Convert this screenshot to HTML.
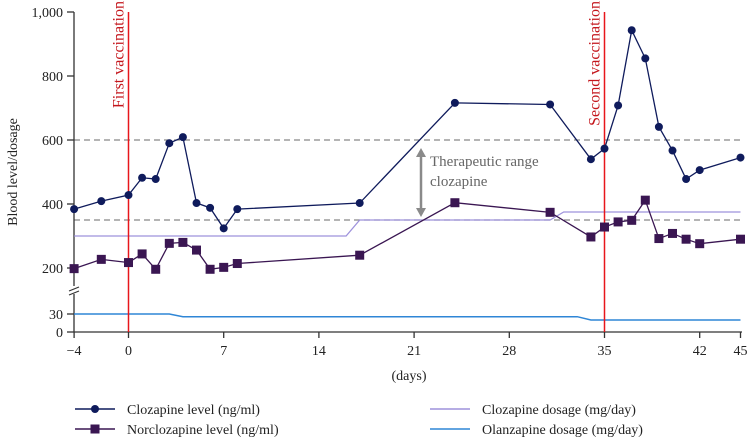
<!DOCTYPE html>
<html><head><meta charset="utf-8"><style>
body{margin:0;background:#fff;}
svg{display:block;font-family:"Liberation Serif",serif;}
</style></head><body>
<svg id="chart" width="750" height="439" viewBox="0 0 750 439" xmlns="http://www.w3.org/2000/svg"></svg>
<script>
const cloDays=[-4,-2,0,1,2,3,4,5,6,7,8,17,24,31,34,35,36,37,38,39,40,41,42,45];
const cloVals=[384,409,428,482,478,590,609,403,388,324,384,403,716,711,540,573,708,943,855,641,567,478,506,545];
const norDays=[-4,-2,0,1,2,3,4,5,6,7,8,17,24,31,34,35,36,37,38,39,40,41,42,45];
const norVals=[198,227,217,244,196,277,280,256,196,202,214,240,404,374,297,328,344,349,412,292,308,290,276,290];
const cloDoseDays=[-4,16,17,31,32,45];
const cloDoseVals=[300,300,350,350,375,375];
const olaDays=[-4,3,4,33,34,45];
const olaVals=[30,30,25.5,25.5,20,20];
const xTicks=[-4,0,7,14,21,28,35,42,45];
const yTicksUpper=[200,400,600,800,1000];
const yTicksLower=[0,30];
const vaccDays=[0,35];
const vaccLabels=["First  vaccination","Second vaccination"];
const rangeLines=[350,600];

const NS="http://www.w3.org/2000/svg";
const svg=document.getElementById('chart');
const X=d=>128.5+d*13.6;
const YU=v=>268-(v-200)*0.32;
const YL=v=>332-v*0.6;
function el(t,a,p){const e=document.createElementNS(NS,t);for(const k in a)e.setAttribute(k,a[k]);(p||svg).appendChild(e);return e;}
function txt(s,a){const e=el('text',a);e.textContent=s;return e;}

rangeLines.forEach(v=>{const l=el('line',{x1:74,x2:742,y1:YU(v),y2:YU(v),stroke:'#888','stroke-width':1.3,'stroke-dasharray':'6,4'});

});

let ax=el('path',{d:'M74,12 V286 M74,294 V332 H742',stroke:'#333','stroke-width':1.3,fill:'none'});


let br=el('path',{d:'M69,291 L79,287 M69,295 L79,291',stroke:'#333','stroke-width':1.2});


yTicksUpper.forEach(v=>{el('line',{x1:67,x2:74,y1:YU(v),y2:YU(v),stroke:'#333','stroke-width':1.3});
const t=txt(v.toLocaleString('en-US'),{x:63,y:YU(v)+5,'text-anchor':'end','font-size':14,fill:'#222'});

});
yTicksLower.forEach(v=>{el('line',{x1:67,x2:74,y1:YL(v),y2:YL(v),stroke:'#333','stroke-width':1.3});
const t=txt(String(v),{x:63,y:YL(v)+5,'text-anchor':'end','font-size':14,fill:'#222'});

});
xTicks.forEach(d=>{el('line',{x1:X(d),x2:X(d),y1:332,y2:338,stroke:'#333','stroke-width':1.3});
const t=txt(d<0?'\u2212'+(-d):String(d),{x:X(d),y:355,'text-anchor':'middle','font-size':14,fill:'#222'});

});
let xt=txt('(days)',{x:409,y:380,'text-anchor':'middle','font-size':14,fill:'#222'});


let yt=txt('Blood level/dosage',{x:0,y:0,transform:'translate(17,172) rotate(-90)','text-anchor':'middle','font-size':14,fill:'#222'});



function poly(days,vals,fy,color,w,name){const p=el('polyline',{points:days.map((d,i)=>X(d)+','+fy(vals[i])).join(' '),fill:'none',stroke:color,'stroke-width':w});

return p;}
poly(cloDoseDays,cloDoseVals,YU,'#9e92dc',1.3,'clozapine-dosage-line');
poly(olaDays,olaVals,YL,'#2f86d6',1.5,'olanzapine-dosage-line');

vaccDays.forEach((d,i)=>{const l=el('line',{x1:X(d),x2:X(d),y1:12,y2:332,stroke:'#e8161b','stroke-width':1.5});


const t=txt(vaccLabels[i],{x:0,y:0,transform:`translate(${X(d)-5},1) rotate(-90)`,'text-anchor':'end','font-size':16,fill:'#c4161c'});

});

let ar=el('path',{d:'M421,155 V210',stroke:'#8a8a8a','stroke-width':2.5});


el('path',{d:'M416,157 L421,148 L426,157 Z M416,208 L421,217 L426,208 Z',fill:'#8a8a8a'});
let rt=txt('Therapeutic range',{x:430,y:166,'font-size':15,fill:'#666'});


txt('clozapine',{x:430,y:186,'font-size':15,fill:'#666'});

poly(norDays,norVals,YU,'#3a1652',1.3,'norclozapine-line');
norDays.forEach((d,i)=>{const r=el('rect',{x:X(d)-4.5,y:YU(norVals[i])-4.5,width:9,height:9,fill:'#3a1652'});

});
poly(cloDays,cloVals,YU,'#0f1b5c',1.3,'clozapine-line');
cloDays.forEach((d,i)=>{const c=el('circle',{cx:X(d),cy:YU(cloVals[i]),r:4,fill:'#0f1b5c'});

});

function leg(x,y,label,color,marker,name){const g=el('g',{});


el('line',{x1:x,x2:x+40,y1:y,y2:y,stroke:color,'stroke-width':1.4},g);
if(marker==='c')el('circle',{cx:x+20,cy:y,r:4,fill:color},g);
if(marker==='s')el('rect',{x:x+15.5,y:y-4.5,width:9,height:9,fill:color},g);
const t=el('text',{x:x+52,y:y+5,'font-size':14,fill:'#222'},g);t.textContent=label;}
leg(75,409,'Clozapine level (ng/ml)','#0f1b5c','c','legend-clozapine-level');
leg(75,429,'Norclozapine level (ng/ml)','#3a1652','s','legend-norclozapine-level');
leg(430,409,'Clozapine dosage (mg/day)','#9e92dc','','legend-clozapine-dosage');
leg(430,429,'Olanzapine dosage (mg/day)','#2f86d6','','legend-olanzapine-dosage');
</script>
</body></html>
